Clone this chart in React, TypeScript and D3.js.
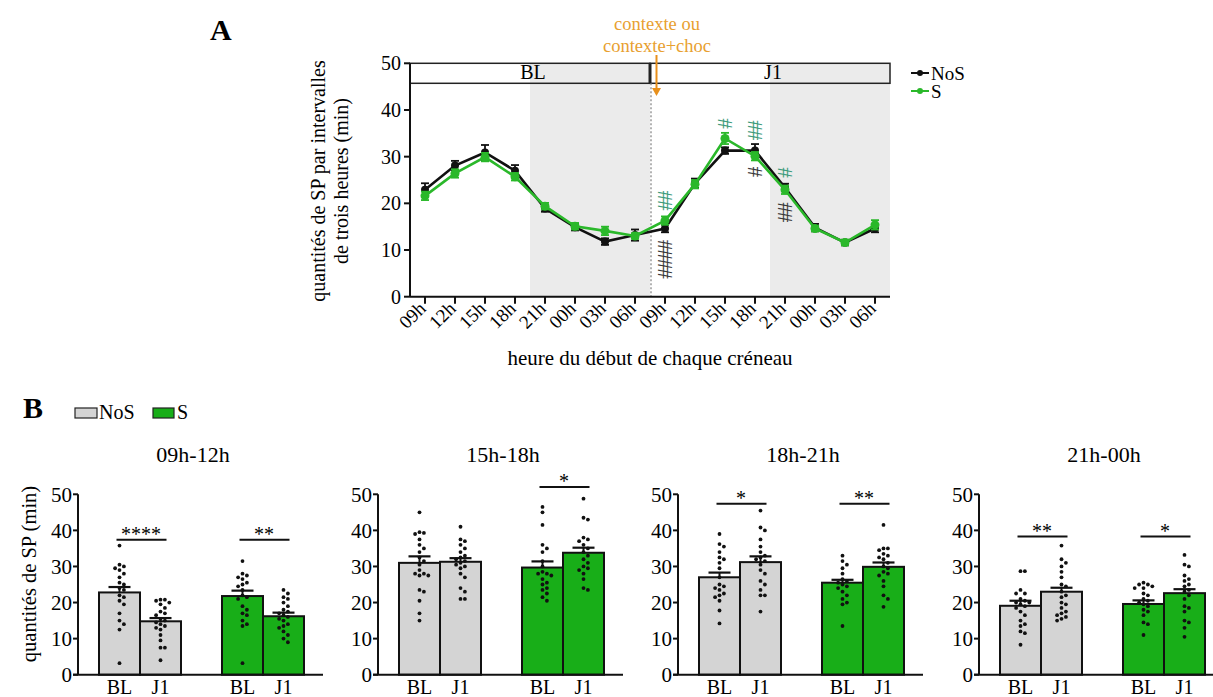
import React from "react";
import * as d3 from "d3";

const FONT = "'Liberation Serif', 'Times New Roman', Times, serif";

// ---------- Panel A data ----------
const hourLabels = ["09h", "12h", "15h", "18h", "21h", "00h", "03h", "06h", "09h", "12h", "15h", "18h", "21h", "00h", "03h", "06h"];
const nosMean = [22.9, 28.1, 30.9, 27.0, 18.9, 14.9, 11.8, 13.2, 14.6, 24.3, 31.3, 31.3, 23.4, 14.8, 11.6, 14.6];
const nosSem = [1.4, 1.0, 1.6, 1.2, 0.7, 0.7, 0.7, 1.2, 0.8, 1.0, 0.7, 1.4, 0.8, 0.8, 0.6, 0.8];
const sMean = [21.6, 26.4, 29.9, 25.7, 19.4, 15.1, 14.1, 13.0, 16.3, 24.1, 33.9, 30.1, 22.9, 14.6, 11.6, 15.4];
const sSem = [0.9, 0.9, 0.9, 0.8, 0.7, 0.7, 0.9, 0.6, 0.9, 0.9, 1.2, 0.9, 0.9, 0.6, 0.6, 1.0];
const phases = [
  { label: "BL", start: -0.5, end: 7.5 },
  { label: "J1", start: 7.5, end: 15.5 },
];
const darkPeriods = [
  [3.5, 7.5],
  [11.5, 15.5],
];
const yTicksA = [0, 10, 20, 30, 40, 50];
const hashMarks = [
  { idx: 8, group: "S", count: 2, edge: 18.6, dir: "up" },
  { idx: 8, group: "NoS", count: 4, edge: 12.1, dir: "down" },
  { idx: 10, group: "S", count: 1, edge: 36.1, dir: "up" },
  { idx: 11, group: "S", count: 2, edge: 33.6, dir: "up" },
  { idx: 11, group: "NoS", count: 1, edge: 27.8, dir: "down" },
  { idx: 12, group: "S", count: 1, edge: 25.6, dir: "up" },
  { idx: 12, group: "NoS", count: 2, edge: 20.1, dir: "down" },
];

// ---------- Panel B data ----------
const windowTitles = ["09h-12h", "15h-18h", "18h-21h", "21h-00h"];
const barLabels = ["BL", "J1", "BL", "J1"];
const barMeans = [
  [22.8, 14.8, 21.8, 16.2],
  [31.0, 31.3, 29.7, 33.8],
  [27.0, 31.2, 25.5, 29.9],
  [19.1, 23.0, 19.6, 22.6],
];
const barSems = [
  [1.5, 0.9, 1.5, 1.0],
  [1.8, 1.0, 1.7, 1.4],
  [1.3, 1.6, 0.8, 1.2],
  [1.4, 1.1, 1.0, 1.1],
];
// individual animals: [NoS BL, NoS J1, S BL, S J1]
const pts0912 = [
  [35.8, 30.5, 30, 29.5, 29, 28, 27, 25.5, 25, 24, 23.5, 22, 21.5, 20.5, 19.5, 17, 15, 14, 12.5, 3.2],
  [20.8, 20.5, 20.8, 20, 19.5, 18.5, 17.5, 17, 16.5, 15.5, 15, 14.5, 14, 13.5, 13, 12.5, 11, 9.5, 7.5, 7.5, 4],
  [31.5, 28, 27.5, 27, 26.5, 25.5, 25, 24.5, 23.5, 22, 21.5, 21, 19, 18, 17, 16.5, 15, 14, 13.5, 3.2],
  [23.5, 22.5, 21.5, 21, 20, 19, 18, 17.5, 17, 16.5, 16, 15.5, 15, 14, 13.5, 13, 12, 11, 10, 9],
];
const pts1518 = [
  [45, 39.5, 39.3, 39, 37.5, 36, 35, 34, 32.5, 31.5, 30.5, 29, 28, 28, 27.5, 27.5, 23.5, 23, 20.5, 17, 15],
  [41, 37.5, 37, 36, 35, 34, 33, 32.5, 32, 31.5, 31, 30.5, 30, 29.5, 28, 27, 24, 23, 21, 21],
  [46.5, 45, 41.5, 36, 35, 34, 31.5, 30, 28.5, 28, 28, 27.5, 26.5, 25.5, 25, 24, 23.5, 22.5, 21.5, 20.5],
  [48.8, 43.5, 43, 38, 37.5, 37, 36, 35, 34, 33, 32, 31, 30, 29.5, 29, 28, 26.5, 24, 23.5],
];
const pts1821 = [
  [39, 36.2, 35.5, 34, 32.5, 32, 31, 29.5, 27, 25, 24.5, 24, 23.5, 22.5, 22, 21.5, 20.5, 17.8, 14.2],
  [45.5, 40.8, 40, 37.5, 35.5, 34, 33, 32.5, 32, 31.5, 30.5, 29, 28, 26, 25, 23.5, 22, 22, 17.5],
  [33, 31.5, 30.5, 29.5, 28, 26.5, 26, 25.5, 25, 24.5, 24, 23, 22, 21, 20, 19.5, 13.5],
  [41.5, 35, 35, 34.5, 33.5, 33, 32.5, 32, 31, 30, 29.5, 28.5, 28, 27.5, 26, 24.5, 22, 21, 18.8],
];
const pts2100 = [
  [28.7, 28.7, 23.5, 22.5, 22.5, 21, 20.5, 20, 20, 19.5, 19, 18.5, 17.5, 16.5, 15, 14, 13.5, 12, 11.5, 8.3],
  [35.8, 32, 31, 30, 28.5, 27, 25, 24.5, 23, 22, 21.5, 20, 19.5, 18.5, 17.5, 17, 16.5, 16, 15.5, 15],
  [25.5, 25, 25, 24.5, 24, 24, 22.5, 22, 21, 20.5, 20, 19.5, 19, 18, 17.5, 16.5, 14.5, 14, 11],
  [33.2, 30.5, 30, 27.5, 26.5, 26, 25, 24.5, 23.5, 23, 22, 21, 19, 18.5, 17.5, 15, 14.5, 13, 10.5],
];
const points = [pts0912, pts1518, pts1821, pts2100];
const sigs = [
  [{ pair: 0, label: "****", y: 37.4 }, { pair: 1, label: "**", y: 37.4 }],
  [{ pair: 1, label: "*", y: 52.0 }],
  [{ pair: 0, label: "*", y: 47.4 }, { pair: 1, label: "**", y: 47.4 }],
  [{ pair: 0, label: "**", y: 38.3 }, { pair: 1, label: "*", y: 38.3 }],
];
const yTicksB = [0, 10, 20, 30, 40, 50];

// ---------- styles ----------
const C_GREEN_LINE = "#2ab82a";
const C_GREEN_BAR = "#18ae18";
const C_GRAY_BAR = "#d4d4d4";
const C_SHADE = "#ebebeb";
const C_HASH_GREEN = "#3f9c7c";
const C_HASH_BLACK = "#3a3a3a";
const C_ORANGE = "#e8a030";
const barFills = [C_GRAY_BAR, C_GRAY_BAR, C_GREEN_BAR, C_GREEN_BAR];

function swarm(vals: number[], y: (v: number) => number) {
  const placed: { x: number; y: number }[] = [];
  const sorted = [...vals].sort((a, b) => b - a);
  const step = 4.4;
  const minD = 4.2;
  sorted.forEach((v) => {
    const py = y(v);
    let chosen = 0;
    for (const k of [0, 1, -1, 2, -2, 3, -3, 4, -4, 5, -5]) {
      const px = k * step;
      if (placed.every((p) => Math.hypot(p.x - px, p.y - py) >= minD)) {
        chosen = px;
        break;
      }
    }
    placed.push({ x: chosen, y: py });
  });
  return placed;
}

function PanelA() {
  const x = d3.scaleLinear().domain([-0.5, 15.5]).range([410, 890]);
  const y = d3.scaleLinear().domain([0, 50]).range([296.7, 63.3]);
  const headerBottom = 83.3;
  const line = d3
    .line<number>()
    .x((_, i) => x(i))
    .y((d) => y(d));
  const series = [
    { name: "NoS", mean: nosMean, sem: nosSem, color: "#111", r: 4 },
    { name: "S", mean: sMean, sem: sSem, color: C_GREEN_LINE, r: 4.5 },
  ];
  const hashStep = 9.5;
  return (
    <g>
      <text x={210} y={40} fontSize={30} fontWeight="bold" fontFamily={FONT}>A</text>
      {darkPeriods.map(([a, b], i) => (
        <rect key={i} x={x(a)} y={y(50)} width={x(b) - x(a)} height={y(0) - y(50)} fill={C_SHADE} />
      ))}
      {/* header boxes */}
      {phases.map((p) => (
        <g key={p.label}>
          <rect x={x(p.start)} y={y(50)} width={x(p.end) - x(p.start)} height={headerBottom - y(50)} fill="none" stroke="#222" strokeWidth={1.5} />
          <text x={(x(p.start) + x(p.end)) / 2 + 3} y={headerBottom - 4} textAnchor="middle" fontSize={20} fontFamily={FONT}>{p.label}</text>
        </g>
      ))}
      <line x1={x(7.5)} x2={x(7.5)} y1={y(50)} y2={headerBottom} stroke="#222" strokeWidth={3} />
      <line x1={x(7.5) + 1} x2={x(7.5) + 1} y1={headerBottom} y2={y(0)} stroke="#8a8a8a" strokeWidth={1.3} strokeDasharray="2,2" />
      {/* y axis */}
      <line x1={410} x2={410} y1={y(0)} y2={y(50)} stroke="#111" strokeWidth={2} />
      {yTicksA.map((t) => (
        <g key={t}>
          <line x1={404} x2={410} y1={y(t)} y2={y(t)} stroke="#111" strokeWidth={2} />
          <text x={401} y={y(t)} dy="0.35em" textAnchor="end" fontSize={20} fontFamily={FONT}>{t}</text>
        </g>
      ))}
      {/* x axis */}
      <line x1={410} x2={890} y1={y(0)} y2={y(0)} stroke="#111" strokeWidth={2} />
      {hourLabels.map((h, i) => (
        <g key={i}>
          <line x1={x(i)} x2={x(i)} y1={y(0)} y2={y(0) + 7} stroke="#111" strokeWidth={2} />
          <text transform={`translate(${x(i) + 2},${y(0) + 13}) rotate(-45)`} textAnchor="end" fontSize={19} fontFamily={FONT}>{h}</text>
        </g>
      ))}
      <text x={650} y={365} textAnchor="middle" fontSize={21} fontFamily={FONT}>heure du début de chaque créneau</text>
      <text transform={`translate(325,181) rotate(-90)`} textAnchor="middle" fontSize={20} fontFamily={FONT}>quantités de SP par intervalles</text>
      <text transform={`translate(348,181) rotate(-90)`} textAnchor="middle" fontSize={20} fontFamily={FONT}>de trois heures (min)</text>
      {/* series */}
      {series.map((s) => (
        <g key={s.name}>
          {s.mean.map((m, i) => (
            <g key={i}>
              <line x1={x(i)} x2={x(i)} y1={y(m - s.sem[i])} y2={y(m + s.sem[i])} stroke={s.color} strokeWidth={1.8} />
              <line x1={x(i) - 4} x2={x(i) + 4} y1={y(m + s.sem[i])} y2={y(m + s.sem[i])} stroke={s.color} strokeWidth={1.8} />
              <line x1={x(i) - 4} x2={x(i) + 4} y1={y(m - s.sem[i])} y2={y(m - s.sem[i])} stroke={s.color} strokeWidth={1.8} />
            </g>
          ))}
          <path d={line(s.mean) || ""} fill="none" stroke={s.color} strokeWidth={2.6} />
          {s.mean.map((m, i) => (
            <circle key={i} cx={x(i)} cy={y(m)} r={s.r} fill={s.color} />
          ))}
        </g>
      ))}
      {/* hash marks */}
      {hashMarks.map((h, k) => {
        const e = y(h.edge);
        const color = h.group === "S" ? C_HASH_GREEN : C_HASH_BLACK;
        return (
          <g key={k}>
            {d3.range(h.count).map((j) => {
              const cy = h.dir === "up" ? e - hashStep * (j + 0.5) : e + hashStep * (j + 0.5);
              return (
                <text key={j} transform={`translate(${x(h.idx)},${cy}) rotate(90)`} textAnchor="middle" dominantBaseline="central" fontSize={21} fontFamily={FONT} fill={color}>#</text>
              );
            })}
          </g>
        );
      })}
      {/* annotation */}
      <text x={657} y={30} textAnchor="middle" fontSize={18.5} fontFamily={FONT} fill={C_ORANGE}>contexte ou</text>
      <text x={657} y={51.5} textAnchor="middle" fontSize={18.5} fontFamily={FONT} fill={C_ORANGE}>contexte+choc</text>
      <line x1={656.5} x2={656.5} y1={55} y2={90} stroke="#e8901c" strokeWidth={2} />
      <path d="M652,88 L661,88 L656.5,96 Z" fill="#e8901c" />
      {/* legend */}
      <line x1={911} x2={929} y1={73} y2={73} stroke="#111" strokeWidth={2} />
      <circle cx={920} cy={73} r={3} fill="#111" />
      <text x={931} y={80} fontSize={19} fontFamily={FONT}>NoS</text>
      <line x1={911} x2={929} y1={91} y2={91} stroke={C_GREEN_LINE} strokeWidth={2} />
      <circle cx={920} cy={91} r={3} fill={C_GREEN_LINE} />
      <text x={931} y={98} fontSize={19} fontFamily={FONT}>S</text>
    </g>
  );
}

function PanelB() {
  const axisX = [78, 378, 678, 979];
  const titleOffset = [115, 125, 125, 125];
  const y = d3.scaleLinear().domain([0, 50]).range([674.7, 494.3]);
  const slots = ["NoS-BL", "NoS-J1", "gap", "S-BL", "S-J1"];
  const band = d3.scaleBand().domain(slots).range([21, 226]).padding(0);
  const barSlot = ["NoS-BL", "NoS-J1", "S-BL", "S-J1"];
  const bw = band.bandwidth();
  return (
    <g>
      <text x={23} y={418} fontSize={30} fontWeight="bold" fontFamily={FONT}>B</text>
      <rect x={75} y={408} width={22} height={10} fill={C_GRAY_BAR} stroke="#222" strokeWidth={1.2} />
      <text x={99} y={419} fontSize={20} fontFamily={FONT}>NoS</text>
      <rect x={153} y={408} width={21} height={10} fill={C_GREEN_BAR} stroke="#222" strokeWidth={1.2} />
      <text x={177} y={419} fontSize={20} fontFamily={FONT}>S</text>
      <text transform={`translate(36,574) rotate(-90)`} textAnchor="middle" fontSize={20.5} fontFamily={FONT}>quantités de SP (min)</text>
      {windowTitles.map((title, p) => {
        const ox = axisX[p];
        const means = barMeans[p];
        return (
          <g key={p} transform={`translate(${ox},0)`}>
            <text x={titleOffset[p]} y={462} textAnchor="middle" fontSize={22} fontFamily={FONT}>{title}</text>
            {means.map((m, b) => {
              const bx = band(barSlot[b]) as number;
              const cx = bx + bw / 2;
              const top = y(m + barSems[p][b]);
              const dots = swarm(points[p][b], y);
              return (
                <g key={b}>
                  <rect x={bx} y={y(m)} width={bw} height={y(0) - y(m)} fill={barFills[b]} stroke="#111" strokeWidth={2} />
                  {dots.map((d, k) => (
                    <circle key={k} cx={cx + d.x} cy={d.y} r={1.9} fill="#111" />
                  ))}
                  <line x1={cx} x2={cx} y1={y(m)} y2={top} stroke="#111" strokeWidth={2} />
                  <line x1={cx - 11} x2={cx + 11} y1={top} y2={top} stroke="#111" strokeWidth={2.2} />
                  <text x={cx} y={694} textAnchor="middle" fontSize={20} fontFamily={FONT}>{barLabels[b]}</text>
                </g>
              );
            })}
            {sigs[p].map((s, k) => {
              const c1 = (band(barSlot[s.pair * 2]) as number) + bw / 2;
              const c2 = (band(barSlot[s.pair * 2 + 1]) as number) + bw / 2;
              return (
                <g key={k}>
                  <line x1={c1 - 3} x2={c2 + 6} y1={y(s.y)} y2={y(s.y)} stroke="#111" strokeWidth={2} />
                  <text x={(c1 + c2) / 2 + 1} y={y(s.y) + 1} textAnchor="middle" fontSize={20} fontFamily={FONT}>{s.label}</text>
                </g>
              );
            })}
            {/* axes */}
            <line x1={0} x2={0} y1={y(0)} y2={y(50)} stroke="#111" strokeWidth={2} />
            {yTicksB.map((t) => (
              <g key={t}>
                <line x1={-5} x2={0} y1={y(t)} y2={y(t)} stroke="#111" strokeWidth={2} />
                <text x={-6} y={y(t)} dy="0.35em" textAnchor="end" fontSize={21} fontFamily={FONT}>{t}</text>
              </g>
            ))}
            <line x1={-5} x2={245} y1={y(0)} y2={y(0)} stroke="#111" strokeWidth={2} />
          </g>
        );
      })}
    </g>
  );
}

export default function App() {
  return (
    <svg width={1213} height={697} style={{ position: "absolute", left: 0, top: 0, background: "#fff" }} fontFamily={FONT}>
      <rect width={1213} height={697} fill="#fff" />
      <PanelA />
      <PanelB />
    </svg>
  );
}
